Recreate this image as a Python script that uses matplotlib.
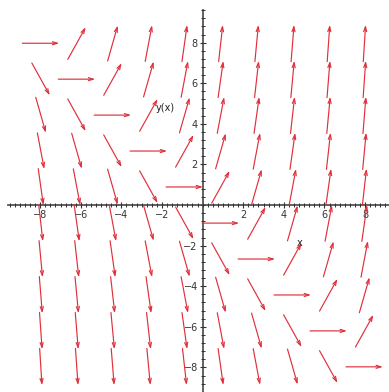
import numpy as np
import matplotlib
matplotlib.use('Agg')
import matplotlib.pyplot as plt
from matplotlib.ticker import FixedLocator

# Direction field of dy/dx = x + y, grid of arrow centres
x_grid = [-7.97, -6.20, -4.43, -2.66, -0.89, 0.89, 2.66, 4.43, 6.20, 7.97]
y_grid = [7.97, 6.20, 4.43, 2.66, 0.89, -0.89, -2.66, -4.43, -6.20, -7.97]

# slope at each grid point, rows follow y_grid (top to bottom), columns follow x_grid
slopes = [
    [0, 1.8, 3.5, 5.3, 7.1, 8.9, 10.6, 12.4, 14.2, 15.9],
    [-1.8, 0, 1.8, 3.5, 5.3, 7.1, 8.9, 10.6, 12.4, 14.2],
    [-3.5, -1.8, 0, 1.8, 3.5, 5.3, 7.1, 8.9, 10.6, 12.4],
    [-5.3, -3.5, -1.8, 0, 1.8, 3.5, 5.3, 7.1, 8.9, 10.6],
    [-7.1, -5.3, -3.5, -1.8, 0, 1.8, 3.5, 5.3, 7.1, 8.9],
    [-8.9, -7.1, -5.3, -3.5, -1.8, 0, 1.8, 3.5, 5.3, 7.1],
    [-10.6, -8.9, -7.1, -5.3, -3.5, -1.8, 0, 1.8, 3.5, 5.3],
    [-12.4, -10.6, -8.9, -7.1, -5.3, -3.5, -1.8, 0, 1.8, 3.5],
    [-14.2, -12.4, -10.6, -8.9, -7.1, -5.3, -3.5, -1.8, 0, 1.8],
    [-15.9, -14.2, -12.4, -10.6, -8.9, -7.1, -5.3, -3.5, -1.8, 0],
]

x_ticks = [-8, -6, -4, -2, 2, 4, 6, 8]
y_ticks = [-8, -6, -4, -2, 2, 4, 6, 8]

arrow_len = 1.82
arrow_color = '#e0303c'

fig = plt.figure(figsize=(3.89, 3.92), dpi=100)
ax = fig.add_axes([0, 0, 1, 1])
ax.set_xlim(-9.98, 9.18)
ax.set_ylim(-9.21, 10.1)

# Arrows
for j, y0 in enumerate(y_grid):
    for i, x0 in enumerate(x_grid):
        s = slopes[j][i]
        norm = np.sqrt(1 + s * s)
        dx = arrow_len / norm / 2
        dy = arrow_len * s / norm / 2
        ax.annotate('', xy=(x0 + dx, y0 + dy), xytext=(x0 - dx, y0 - dy),
                    arrowprops=dict(arrowstyle='->,head_length=0.35,head_width=0.11',
                                    color=arrow_color, lw=0.85,
                                    shrinkA=0, shrinkB=0))

# Axes through the origin
for side in ['top', 'right']:
    ax.spines[side].set_visible(False)
ax.spines['left'].set_position(('data', 0))
ax.spines['bottom'].set_position(('data', 0))
ax.spines['bottom'].set_bounds(-9.6, 9.18)
ax.spines['left'].set_bounds(-9.21, 9.6)
for side in ['left', 'bottom']:
    ax.spines[side].set_color('#555555')
    ax.spines[side].set_linewidth(1.3)
    ax.spines[side].set_zorder(0)

ax.set_xticks(x_ticks)
ax.set_yticks(y_ticks)
ax.xaxis.set_minor_locator(FixedLocator(np.arange(-9.5, 9.1, 0.25)))
ax.yaxis.set_minor_locator(FixedLocator(np.arange(-9.2, 9.7, 0.4)))
ax.tick_params(which='major', direction='inout', length=5, width=0.8,
               colors='#333333', labelsize=7, pad=1)
ax.tick_params(which='minor', direction='inout', length=3, width=0.7,
               colors='#333333')

# Axis labels as placed by the original
ax.text(-1.86, 4.78, 'y(x)', fontsize=7, ha='center', va='center', color='#222222')
ax.text(4.79, -1.87, 'x', fontsize=7, ha='center', va='center', color='#222222')

fig.savefig('out.png', dpi=100)
